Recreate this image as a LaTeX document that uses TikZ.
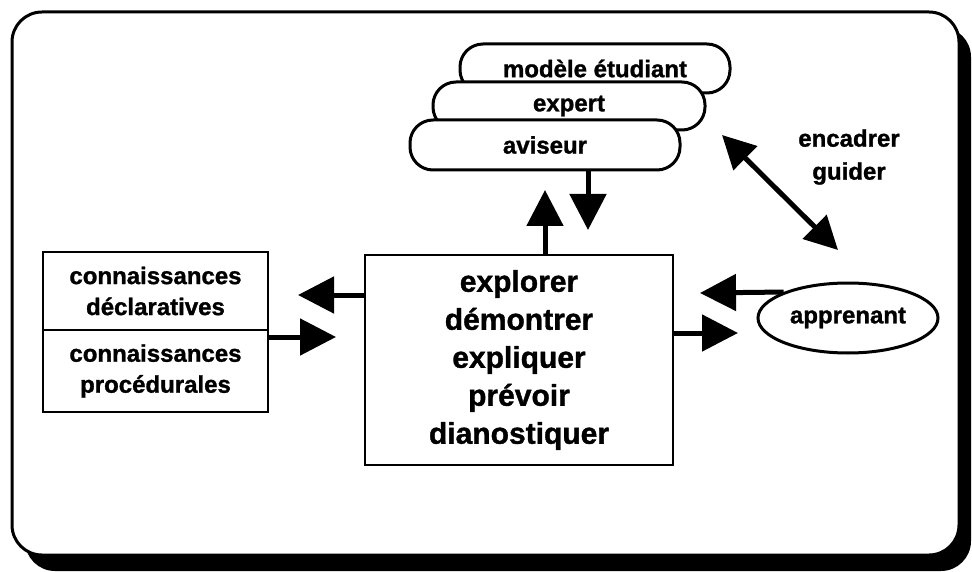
\documentclass[tikz,border=0pt]{standalone}
\usepackage{fontspec}
\setmainfont{Liberation Sans}[BoldFeatures={FakeBold=1.2}]
\usetikzlibrary{arrows.meta,shapes.geometric}
\begin{document}
\begin{tikzpicture}[x=1pt,y=-1pt,
  lbl/.style={font=\bfseries\fontsize{24}{31}\selectfont, align=center},
  bigtxt/.style={font=\bfseries\fontsize{30}{38}\selectfont, align=center},
  kbox/.style={draw, line width=2.5pt, minimum width=225pt, inner sep=0pt, lbl},
  pill/.style={draw, line width=3pt, fill=white, rounded corners=23pt, minimum width=270pt, minimum height=49pt, inner sep=0pt, lbl},
  bigarrow/.style={line width=5pt, -{Triangle[length=36pt,width=36pt]}},
  dblarrow/.style={line width=5pt, {Triangle[length=33pt,width=33pt]}-{Triangle[length=33pt,width=33pt]}}
]
\useasboundingbox (0,0) rectangle (972,572);
% frame with shadow
\fill[black, rounded corners=30pt] (25,27) rectangle (971,571);
\draw[line width=3pt, fill=white, rounded corners=30pt] (12,12) rectangle (959,555);

% left boxes
\node[kbox, minimum height=78pt] (decl) at (155.5,291) {connaissances\\déclaratives};
\node[kbox, minimum height=82pt] (proc) at (155.5,371) {connaissances\\procédurales};

% main box
\node[draw, line width=2.5pt, minimum width=308pt, minimum height=210pt, inner sep=0pt, bigtxt] (main) at (519,360)
  {explorer\\démontrer\\expliquer\\prévoir\\dianostiquer};

% stacked pills
\node[pill] (modele) at (595,68.5) {modèle étudiant};
\node[pill, minimum width=272pt, minimum height=48pt] (expert) at (569,106) {expert};
\node[pill, minimum height=50pt] (aviseur) at (545,145) {\raisebox{-3pt}{aviseur}};

% apprenant
\node[draw, ellipse, line width=3pt, minimum width=180pt, minimum height=70pt, inner sep=0pt, lbl] (appr) at (848,318) {apprenant};

% label
\node[lbl, font=\bfseries\fontsize{24}{33}\selectfont] (encadrer) at (849,157) {encadrer\\guider};

% tips
\coordinate (tup) at (545,190);
\coordinate (tdown) at (588,230);
\coordinate (tleft) at (298,295);
\coordinate (tright) at (336,337);
\coordinate (tappl) at (700,293);
\coordinate (tappr) at (738,333);
\coordinate (dA) at (722,135);
\coordinate (dB) at (838,250);

% arrows
\draw[bigarrow] (main.north -| tup) -- (tup);
\draw[bigarrow] (aviseur.south -| tdown) -- (tdown);
\draw[bigarrow] (main.west |- tleft) -- (tleft);
\draw[bigarrow] (decl.south east |- tright) -- (tright);
\draw[bigarrow] (appr.158) -- (tappl);
\draw[bigarrow] (main.east |- tappr) -- (tappr);
\draw[dblarrow] (dA) -- (dB);
\end{tikzpicture}
\end{document}
